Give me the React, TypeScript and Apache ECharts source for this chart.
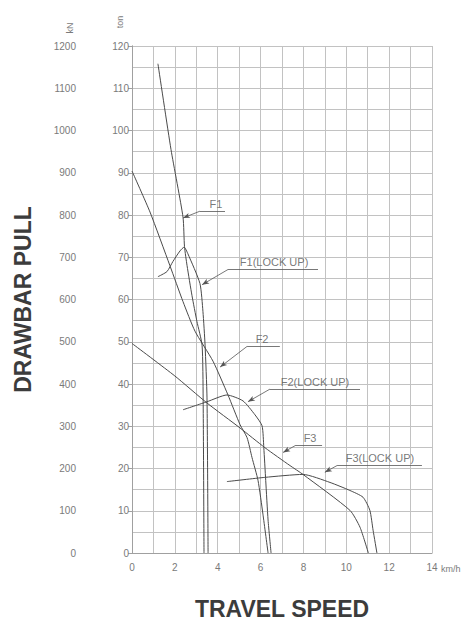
import React, { useEffect, useRef } from "react";
import * as echarts from "echarts";

// Travel speed (km/h) vs drawbar pull (ton)
const f1Converter: number[][] = [
  [1.21, 115.8], [1.82, 95.5], [2.38, 79.5], [2.45, 72.5], [2.57, 68],
  [2.8, 60.9], [3.03, 54.8], [3.27, 49.2], [3.32, 36.7], [3.36, 0],
];
const f1LockUp: number[][] = [
  [1.21, 65.4], [1.63, 66.6], [1.91, 69], [2.24, 71.5], [2.43, 72.4],
  [2.61, 70.8], [3.17, 63.8], [3.31, 57.2], [3.41, 49.2], [3.5, 36.7], [3.55, 0],
];
const f2Converter: number[][] = [
  [0, 90.4], [0.84, 80.7], [1.77, 68], [2.38, 59.5], [2.94, 52.5], [3.78, 45.4],
  [4.48, 37.4], [5.04, 30.4], [5.37, 27.3], [5.6, 22.6], [5.88, 17.2], [6.11, 9.2], [6.35, 0],
];
const f2LockUp: number[][] = [
  [2.38, 33.9], [3.5, 35.8], [4.43, 37.4], [5.18, 36], [5.74, 32.7],
  [6.07, 30.1], [6.15, 25], [6.24, 17.2], [6.35, 7.8], [6.49, 0],
];
const f3Converter: number[][] = [
  [0, 49.6], [2.0, 41.9], [3.5, 35.5], [5.04, 29.6], [6.21, 24.9], [7.37, 20.7],
  [7.98, 18.6], [10.17, 10.1], [10.64, 6.1], [11.03, 0],
];
const f3LockUp: number[][] = [
  [4.43, 16.9], [6.2, 17.9], [7.98, 18.6], [9.24, 16.7], [10.17, 14.8],
  [10.78, 13.2], [11.1, 10.1], [11.25, 5.4], [11.43, 0],
];

const curveNames = ["F1", "F1(LOCK UP)", "F2", "F2(LOCK UP)", "F3", "F3(LOCK UP)"];
const curves = [f1Converter, f1LockUp, f2Converter, f2LockUp, f3Converter, f3LockUp];

// leader-line anchors in data units: arrow tip, elbow, end of underline, label centre
const leaderTips: number[][] = [
  [2.38, 79.3], [3.27, 63.5], [4.11, 44.0], [5.41, 35.8], [7.05, 23.8], [9.0, 19.1],
];
const leaderElbows: number[][] = [
  [3.17, 80.9], [4.48, 67.1], [5.37, 48.9], [6.44, 38.8], [7.61, 25.4], [9.57, 20.7],
];
const leaderEnds: number[] = [4.34, 8.68, 6.9, 10.64, 8.87, 13.53];
const labelCentres: number[] = [3.92, 6.63, 6.07, 8.54, 8.31, 11.57];

const speedRange = [0, 14];
const tonRange = [0, 120];
const kNRange = [0, 1200];

const FONT = "'Liberation Sans', Arial, sans-serif";
const GRID = "#c2c2c2";
const AXIS = "#a0a0a0";
const LABEL = "#7a7a7a";
const CURVE = "#4a4a4a";

export default function App() {
  const ref = useRef<HTMLDivElement>(null);

  useEffect(() => {
    document.body.style.margin = "0";
    if (!ref.current) return;
    const chart = echarts.init(ref.current, undefined, { renderer: "svg" });

    const markLineData: any[] = [];
    leaderTips.forEach((tip, i) => {
      const elbow = leaderElbows[i];
      markLineData.push([
        { coord: tip, symbol: "arrow", symbolSize: [4, 7] },
        { coord: elbow, symbol: "none" },
      ]);
      markLineData.push([
        { coord: elbow, symbol: "none" },
        { coord: [leaderEnds[i], elbow[1]], symbol: "none" },
      ]);
    });

    const option: any = {
      animation: false,
      textStyle: { fontFamily: FONT },
      grid: { left: 132, right: 38, top: 46, bottom: 60, containLabel: false },
      xAxis: [
        {
          type: "value",
          min: speedRange[0],
          max: speedRange[1],
          interval: 2,
          axisLine: { show: true, lineStyle: { color: AXIS, width: 1 } },
          axisTick: { show: false },
          axisLabel: { color: LABEL, fontSize: 10, margin: 9, fontFamily: FONT },
          splitLine: { show: true, lineStyle: { color: GRID, width: 1 } },
          minorTick: { show: false, splitNumber: 2 },
          minorSplitLine: { show: true, lineStyle: { color: GRID, width: 1 } },
          name: "TRAVEL SPEED",
          nameLocation: "middle",
          nameGap: 44,
          nameTextStyle: { fontSize: 23, fontWeight: "bold", color: "#3c3c3c", fontFamily: FONT, verticalAlign: "top" },
        },
        {
          type: "value",
          min: speedRange[0],
          max: speedRange[1],
          position: "bottom",
          axisLine: { show: false },
          axisTick: { show: false },
          axisLabel: { show: false },
          splitLine: { show: false },
          name: "km/h",
          nameLocation: "end",
          nameGap: 9,
          nameTextStyle: { fontSize: 9, color: LABEL, fontFamily: FONT, verticalAlign: "top", padding: [11, 0, 0, 0] },
        },
      ],
      yAxis: [
        {
          type: "value",
          position: "left",
          min: tonRange[0],
          max: tonRange[1],
          interval: 10,
          axisLine: { show: true, lineStyle: { color: AXIS, width: 1 } },
          axisTick: { show: true, length: 4, lineStyle: { color: AXIS } },
          axisLabel: { color: LABEL, fontSize: 10, margin: 3, fontFamily: FONT },
          splitLine: { show: true, lineStyle: { color: GRID, width: 1 } },
          minorTick: { show: false, splitNumber: 2 },
          minorSplitLine: { show: true, lineStyle: { color: GRID, width: 1 } },
        },
        {
          type: "value",
          position: "left",
          offset: 52,
          min: kNRange[0],
          max: kNRange[1],
          interval: 100,
          axisLine: { show: true, lineStyle: { color: AXIS, width: 1 } },
          axisTick: { show: true, length: 3, lineStyle: { color: AXIS } },
          axisLabel: { color: LABEL, fontSize: 10, margin: 4, fontFamily: FONT, formatter: (v: number) => String(v) },
          splitLine: { show: false },
          name: "DRAWBAR PULL",
          nameLocation: "middle",
          nameRotate: 90,
          nameGap: 46,
          nameTextStyle: { fontSize: 23, fontWeight: "bold", color: "#3c3c3c", fontFamily: FONT },
        },
      ],
      graphic: [
        {
          type: "text",
          x: 70,
          y: 28,
          rotation: Math.PI / 2,
          style: { text: "kN", fontSize: 9, fill: LABEL, align: "center", verticalAlign: "middle", fontFamily: FONT },
        },
        {
          type: "text",
          x: 120,
          y: 22,
          rotation: Math.PI / 2,
          style: { text: "ton", fontSize: 9, fill: LABEL, align: "center", verticalAlign: "middle", fontFamily: FONT },
        },
      ],
      series: [
        ...curves.map((data, i) => ({
          type: "line",
          name: curveNames[i],
          data,
          xAxisIndex: 0,
          yAxisIndex: 0,
          showSymbol: false,
          symbol: "none",
          smooth: 0.2,
          lineStyle: { color: CURVE, width: 1 },
          silent: true,
          z: 3,
        })),
        {
          type: "line",
          name: "leaders",
          data: [],
          xAxisIndex: 0,
          yAxisIndex: 0,
          silent: true,
          markLine: {
            silent: true,
            animation: false,
            label: { show: false },
            lineStyle: { color: "#555", width: 0.8, type: "solid" },
            emphasis: { disabled: true },
            data: markLineData,
          },
        },
        {
          type: "scatter",
          name: "labels",
          xAxisIndex: 0,
          yAxisIndex: 0,
          symbolSize: 0,
          silent: true,
          data: curveNames.map((n, i) => ({ name: n, value: [labelCentres[i], leaderElbows[i][1]] })),
          label: {
            show: true,
            position: "top",
            distance: 2,
            formatter: "{b}",
            color: "#555",
            fontSize: 11,
            fontFamily: FONT,
          },
        },
      ],
    };

    chart.setOption(option);
    return () => chart.dispose();
  }, []);

  return <div ref={ref} style={{ width: 470, height: 625 }} />;
}
